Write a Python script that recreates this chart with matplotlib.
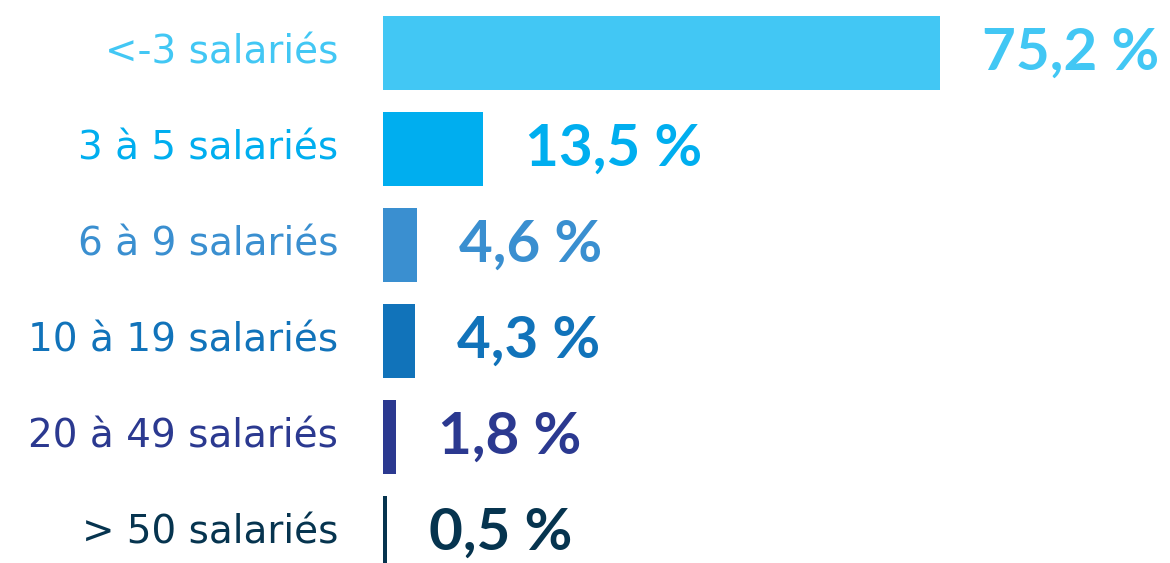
import matplotlib.pyplot as plt

categories = ['<-3 salariés', '3 à 5 salariés', '6 à 9 salariés',
              '10 à 19 salariés', '20 à 49 salariés', '> 50 salariés']
values = [75.2, 13.5, 4.6, 4.3, 1.8, 0.5]
value_labels = ['75,2 %', '13,5 %', '4,6 %', '4,3 %', '1,8 %', '0,5 %']
colors = ['#42C7F4', '#00AEEF', '#3A8FD0', '#1173BA', '#2B3990', '#06344F']

W, H = 1170, 563
fig = plt.figure(figsize=(W / 100, H / 100), dpi=100)

# axes placed in pixels: bars start at x=383, 7.41 px per percent
px_per_unit = 7.41
xmax = 105
ax = fig.add_axes([383 / W, 0, px_per_unit * xmax / W, 1])
ax.set_xlim(0, xmax)
row = 96
ax.set_ylim((H - 53) / row, -53 / row)

pos = list(range(len(values)))
ax.barh(pos, values, height=74 / row, color=colors)

for i in pos:
    ax.annotate(categories[i], (0, i), xytext=(-45, 0), textcoords='offset pixels',
                ha='right', va='center', fontsize=28, color=colors[i],
                family='DejaVu Sans', annotation_clip=False)
    ax.annotate(value_labels[i], (values[i], i), xytext=(42, 0), textcoords='offset pixels',
                ha='left', va='center', fontsize=42, fontweight='bold', color=colors[i],
                family='Lato', annotation_clip=False)

ax.axis('off')
fig.savefig('out.png', dpi=100)
